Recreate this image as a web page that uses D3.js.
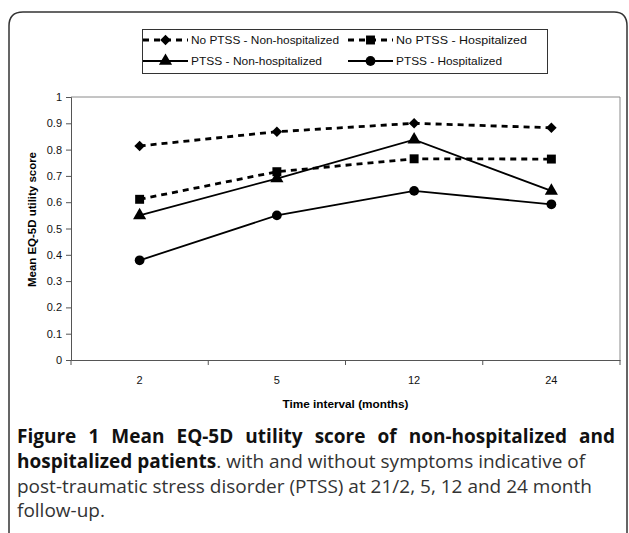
<!DOCTYPE html>
<html>
<head>
<meta charset="utf-8">
<script src="https://cdn.jsdelivr.net/npm/d3@7"></script>
<style>
  body { margin: 0; background: #fff; }
  svg { display: block; }
  .tick text { font-family: "Liberation Sans", sans-serif; font-size: 11px; fill: #111; }
</style>
</head>
<body>
<svg id="canvas" width="629" height="533"></svg>
<script>
// time points (months) and EQ-5D values
const months = ["2", "5", "12", "24"];
const noPtssNonHosp = [0.814, 0.868, 0.900, 0.883];
const noPtssHosp = [0.611, 0.716, 0.765, 0.764];
const ptssNonHosp = [0.550, 0.690, 0.838, 0.643];
const ptssHosp = [0.379, 0.550, 0.643, 0.592];
const yTicks = [0, 0.1, 0.2, 0.3, 0.4, 0.5, 0.6, 0.7, 0.8, 0.9, 1];

const series = [
  { name: "No PTSS - Non-hospitalized", values: noPtssNonHosp, dashed: true, symbol: d3.symbolSquare, size: 56, rotate: 45, textW: 148 },
  { name: "No PTSS - Hospitalized", values: noPtssHosp, dashed: true, symbol: d3.symbolSquare, size: 80, rotate: 0, textW: 131 },
  { name: "PTSS - Non-hospitalized", values: ptssNonHosp, dashed: false, symbol: d3.symbolTriangle, size: 75, rotate: 0, textW: 131 },
  { name: "PTSS - Hospitalized", values: ptssHosp, dashed: false, symbol: d3.symbolCircle, size: 75, rotate: 0, textW: 106 },
];

const canvas = d3.select("#canvas");

// outer figure frame, rounded at the top, open at the bottom
canvas.append("path")
  .attr("d", "M9,545 L9,26 Q9,12 23,12 L614,12 Q627,12 627,26 L627,545")
  .attr("fill", "none")
  .attr("stroke", "#333")
  .attr("stroke-width", 1.5);

const plot = { left: 71, right: 620, top: 97, bottom: 360 };

const x = d3.scaleBand().domain(months).range([plot.left, plot.right]);
const y = d3.scaleLinear().domain([0, 1]).range([plot.bottom, plot.top]);

// plot frame (top and right)
canvas.append("path")
  .attr("d", `M${plot.left},${plot.top} L${plot.right},${plot.top} L${plot.right},${plot.bottom}`)
  .attr("fill", "none")
  .attr("stroke", "#8a8a8a")
  .attr("stroke-width", 1);

// y axis
const yAxis = canvas.append("g")
  .attr("transform", `translate(${plot.left},0)`)
  .call(d3.axisLeft(y).tickValues(yTicks).tickSize(5).tickPadding(4).tickFormat(d3.format(".1~f")));
yAxis.selectAll("path, line").attr("stroke", "#555");

// x axis: labels centred in the bands, ticks on the band edges
const xAxis = canvas.append("g")
  .attr("transform", `translate(0,${plot.bottom})`)
  .call(d3.axisBottom(x).tickSize(0).tickPadding(16));
xAxis.select("path").attr("stroke", "#555");
xAxis.selectAll(".tick").append("line")
  .attr("x1", -x.bandwidth() / 2).attr("x2", -x.bandwidth() / 2)
  .attr("y2", 5).attr("stroke", "#555");
xAxis.append("line")
  .attr("x1", plot.right).attr("x2", plot.right)
  .attr("y2", 5).attr("stroke", "#555");

// axis titles
canvas.append("text")
  .attr("x", (plot.left + plot.right) / 2)
  .attr("y", 408)
  .attr("text-anchor", "middle")
  .attr("font-family", "Liberation Sans, sans-serif")
  .attr("font-size", 10.5)
  .attr("font-weight", "bold")
  .attr("textLength", 126)
  .attr("lengthAdjust", "spacingAndGlyphs")
  .text("Time interval (months)");

canvas.append("text")
  .attr("transform", `translate(36,${(plot.top + plot.bottom) / 2 - 9}) rotate(-90)`)
  .attr("text-anchor", "middle")
  .attr("font-family", "Liberation Sans, sans-serif")
  .attr("font-size", 10.5)
  .attr("font-weight", "bold")
  .attr("textLength", 135)
  .attr("lengthAdjust", "spacingAndGlyphs")
  .text("Mean EQ-5D utility score");

// lines and markers
const line = d3.line()
  .x((d, i) => x(months[i]) + x.bandwidth() / 2)
  .y((d) => y(d));

series.forEach((s) => {
  canvas.append("path")
    .attr("d", line(s.values))
    .attr("fill", "none")
    .attr("stroke", "#000")
    .attr("stroke-width", s.dashed ? 2.8 : 1.8)
    .attr("stroke-dasharray", s.dashed ? "6,5" : null);

  canvas.selectAll(null)
    .data(s.values)
    .enter()
    .append("path")
    .attr("d", d3.symbol().type(s.symbol).size(s.size))
    .attr("transform", (d, i) => `translate(${x(months[i]) + x.bandwidth() / 2},${y(d)}) rotate(${s.rotate})`)
    .attr("fill", "#000");
});

// legend
canvas.append("rect")
  .attr("x", 142.5).attr("y", 29.5)
  .attr("width", 405).attr("height", 44)
  .attr("fill", "#fff")
  .attr("stroke", "#333")
  .attr("stroke-width", 1);

const legendPos = [
  { x: 143, y: 40 },
  { x: 348, y: 40 },
  { x: 143, y: 61 },
  { x: 348, y: 61 },
];

series.forEach((s, i) => {
  const p = legendPos[i];
  const g = canvas.append("g").attr("transform", `translate(${p.x},${p.y})`);
  g.append("line")
    .attr("x1", 0).attr("x2", 45)
    .attr("stroke", "#000")
    .attr("stroke-width", s.dashed ? 2.8 : 1.8)
    .attr("stroke-dasharray", s.dashed ? "6,5" : null);
  g.append("path")
    .attr("d", d3.symbol().type(s.symbol).size(s.size))
    .attr("transform", `translate(22.5,0) rotate(${s.rotate})`)
    .attr("fill", "#000");
  g.append("text")
    .attr("x", 48)
    .attr("y", 4)
    .attr("font-family", "Liberation Sans, sans-serif")
    .attr("font-size", 11)
    .attr("fill", "#111")
    .attr("textLength", s.textW)
    .attr("lengthAdjust", "spacingAndGlyphs")
    .text(s.name);
});

// caption
const caption = canvas.append("g")
  .attr("font-family", "Open Sans, Noto Sans, sans-serif")
  .attr("font-size", 19)
  .attr("fill", "#333");

// first line is justified across the full width by widening the word gaps
const l1 = caption.append("text")
  .attr("x", 17).attr("y", 443)
  .attr("font-weight", "bold")
  .attr("fill", "#111")
  .text("Figure 1 Mean EQ-5D utility score of non-hospitalized and");
const gaps = 8;
const extra = (598 - l1.node().getComputedTextLength()) / gaps;
l1.attr("word-spacing", Math.max(0, extra));

const l2 = caption.append("text").attr("x", 17).attr("y", 468);
l2.append("tspan").attr("font-weight", "bold").attr("fill", "#111").text("hospitalized patients");
l2.append("tspan").text(". with and without symptoms indicative of");

caption.append("text")
  .attr("x", 17).attr("y", 493)
  .text("post-traumatic stress disorder (PTSS) at 21/2, 5, 12 and 24 month");

caption.append("text")
  .attr("x", 17).attr("y", 517)
  .text("follow-up.");
</script>
</body>
</html>
